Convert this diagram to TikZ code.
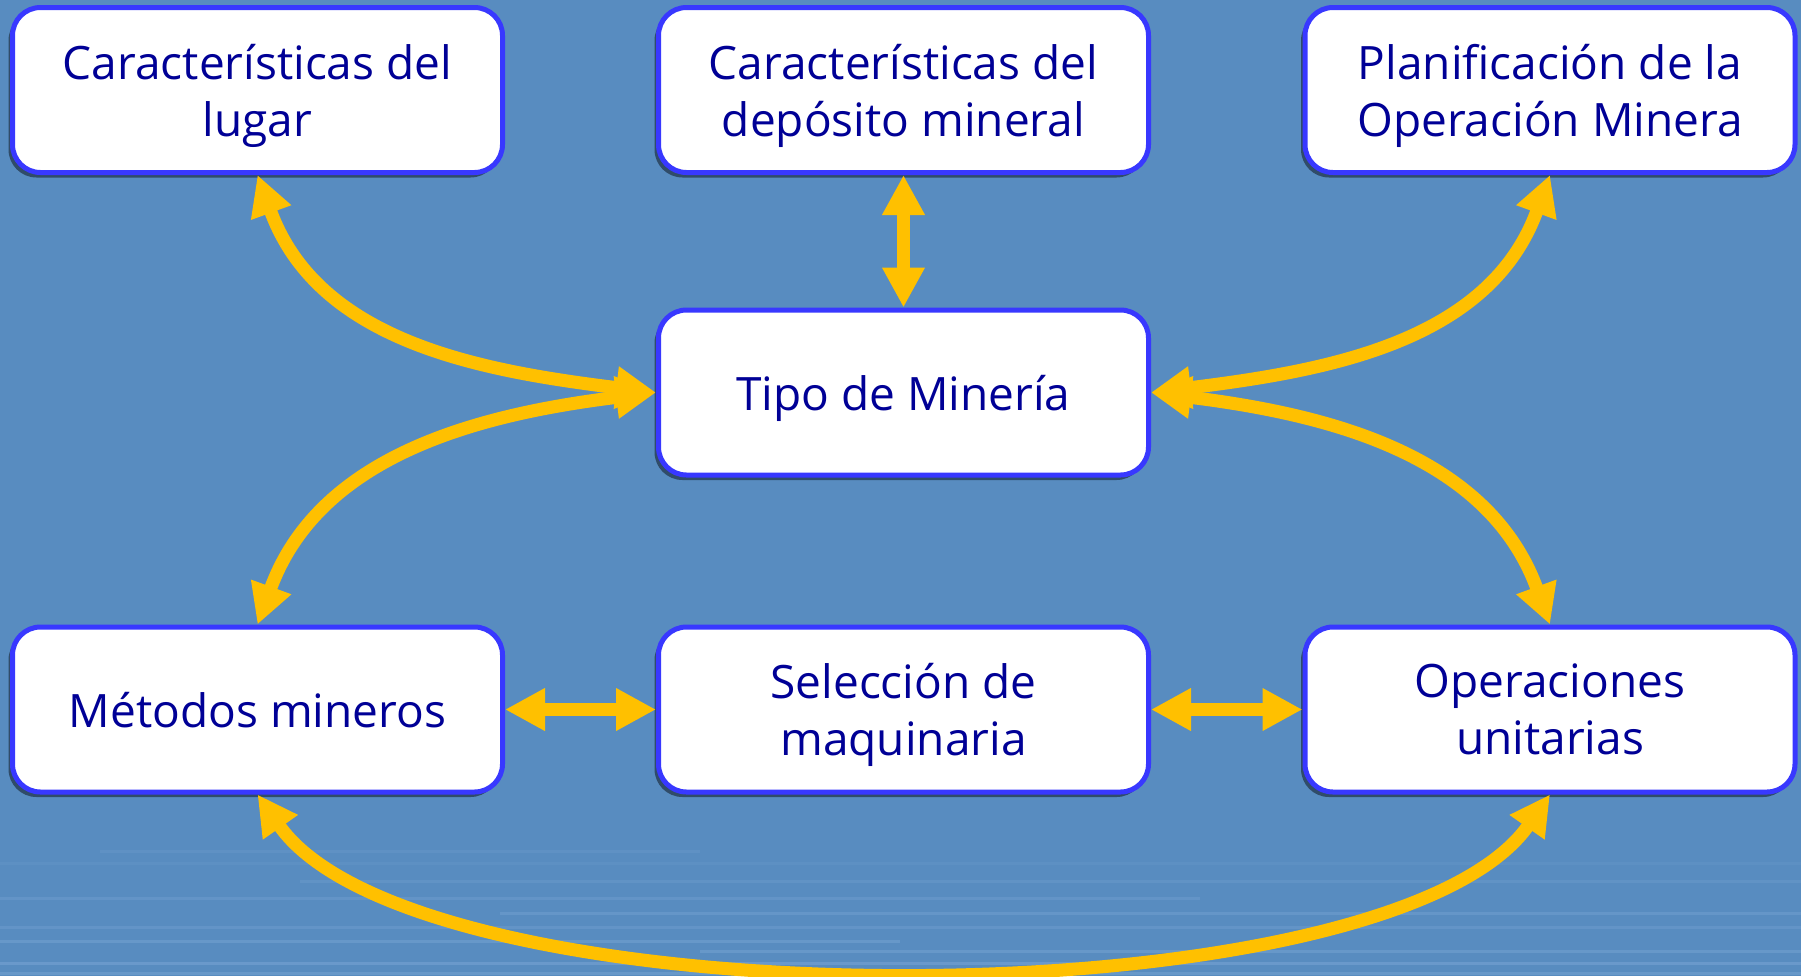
\documentclass[tikz,border=0pt]{standalone}
\usepackage{fontspec}
\setmainfont{Open Sans}
\usepackage{tikz}
\usetikzlibrary{arrows.meta,shadows}
\definecolor{fondo}{RGB}{88,140,192}
\definecolor{reflejo}{RGB}{140,180,225}
\definecolor{borde}{RGB}{56,56,255}
\definecolor{texto}{RGB}{0,0,150}
\definecolor{flecha}{RGB}{255,192,0}
\newcommand{\dblarrow}{{Triangle[length=20pt,width=20pt]}-{Triangle[length=20pt,width=20pt]}}
\tikzset{caja/.style={draw=borde, line width=2.5pt, fill=white, rounded corners=14pt,
    minimum width=245pt, minimum height=82.5pt, align=center, text=texto, text depth=0pt,
    font=\fontsize{23}{28.5}\selectfont,
    drop shadow={shadow xshift=-2pt, shadow yshift=-2.5pt, opacity=0.45, fill=black}},
  flechas/.style={\dblarrow, draw=flecha, line width=6.5pt}}

\begin{document}
\begin{tikzpicture}[x=0.5pt, y=-0.5pt]
					\fill[fondo] (0,0) rectangle (1801,976);
					\useasboundingbox (0,0) rectangle (1801,976);
					% reflejos del agua abajo
					\foreach \y/\a/\b/\o in {850/100/700/0.15, 862/0/1801/0.10, 880/300/1801/0.18, 897/0/1200/0.22,
						912/500/1801/0.25, 926/0/1801/0.22, 940/0/900/0.30, 950/700/1801/0.30, 962/0/1801/0.35, 972/0/1801/0.30}
						\fill[reflejo, opacity=\o] (\a,\y) rectangle (\b,\y+3);
					\node[caja] (lugar) at (257.5,90) {Características del\\lugar};
					\node[caja] (deposito) at (903.5,90) {Características del\\depósito mineral};
					\node[caja] (plan) at (1550,90) {Planificación de la\\Operación Minera};
					\node[caja] (tipo) at (903.5,392.5) {Tipo de Minería};
					\node[caja] (metodos) at (257.5,709.5) {Métodos mineros};
					\node[caja] (maquina) at (903.5,709.5) {Selección de\\maquinaria};
					\node[caja] (oper) at (1550,709.5) {Operaciones\\unitarias};
					\draw[flechas] (deposito) -- (tipo);
					\draw[flechas] (tipo.west) to[out=173, in=-70] (lugar.south);
					\draw[flechas] (tipo.west) to[out=187, in=70] (metodos.north);
					\draw[flechas] (tipo.east) to[out=7, in=-110] (plan.south);
					\draw[flechas] (tipo.east) to[out=-7, in=110] (oper.north);
					\draw[flechas] (metodos) -- (maquina);
					\draw[flechas] (maquina) -- (oper);
					\draw[flechas] (metodos.south) to[out=-55, in=-125, looseness=0.56] (oper.south);
				\end{tikzpicture}
\end{document}
